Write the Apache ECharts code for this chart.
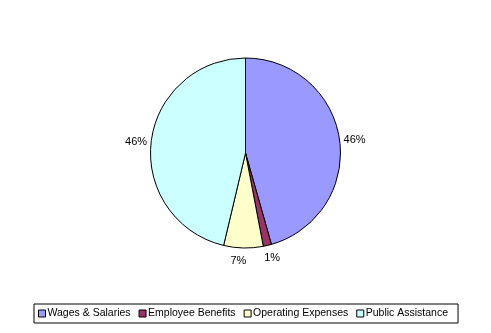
<!DOCTYPE html>
<html>
<head>
<meta charset="utf-8">
<script src="https://cdn.jsdelivr.net/npm/echarts@6/dist/echarts.min.js"></script>
<style>
  html, body { margin: 0; padding: 0; background: #fff; }
  #chart { width: 491px; height: 333px; }
</style>
</head>
<body>
<div id="chart"></div>
<script>
// Spending breakdown by category (share of total, %)
const categories = ['Wages & Salaries', 'Employee Benefits', 'Operating Expenses', 'Public Assistance'];
const shares = [45.6, 1.4, 6.7, 46.3];
const colors = ['#9999FF', '#993366', '#FFFFCC', '#CCFFFF'];

const chart = echarts.init(document.getElementById('chart'), null, { renderer: 'canvas' });
const fontFamily = 'Arial, "Liberation Sans", sans-serif';

// Small slices near the bottom get their labels centred underneath the pie
const bottomLabelItems = [1, 2];

chart.setOption({
  animation: false,
  backgroundColor: '#ffffff',
  color: colors,
  legend: {
    data: categories,
    left: 34,
    top: 304,
    orient: 'horizontal',
    icon: 'rect',
    itemWidth: 7,
    itemHeight: 7,
    itemGap: 8,
    padding: [4, 10, 4, 4],
    borderColor: '#000',
    borderWidth: 1,
    itemStyle: { borderColor: '#000', borderWidth: 1 },
    textStyle: { fontFamily: fontFamily, fontSize: 10.5, color: '#000', padding: [0, 0, 0, -3] }
  },
  series: [{
    type: 'pie',
    center: [245.5, 153],
    radius: 95,
    startAngle: 90,
    clockwise: true,
    avoidLabelOverlap: false,
    percentPrecision: 0,
    data: categories.map((name, i) => ({ name: name, value: shares[i] })),
    itemStyle: { borderColor: '#000', borderWidth: 1 },
    label: {
      show: true,
      position: 'outside',
      formatter: '{d}%',
      fontFamily: fontFamily,
      fontSize: 11,
      color: '#000'
    },
    labelLine: { show: false, length: -1, length2: 0 },
    labelLayout: function (params) {
      if (bottomLabelItems.indexOf(params.dataIndex) >= 0) {
        return { align: 'center', verticalAlign: 'top', dy: 8 };
      }
      return {};
    },
    emphasis: { disabled: true }
  }]
});
</script>
</body>
</html>
